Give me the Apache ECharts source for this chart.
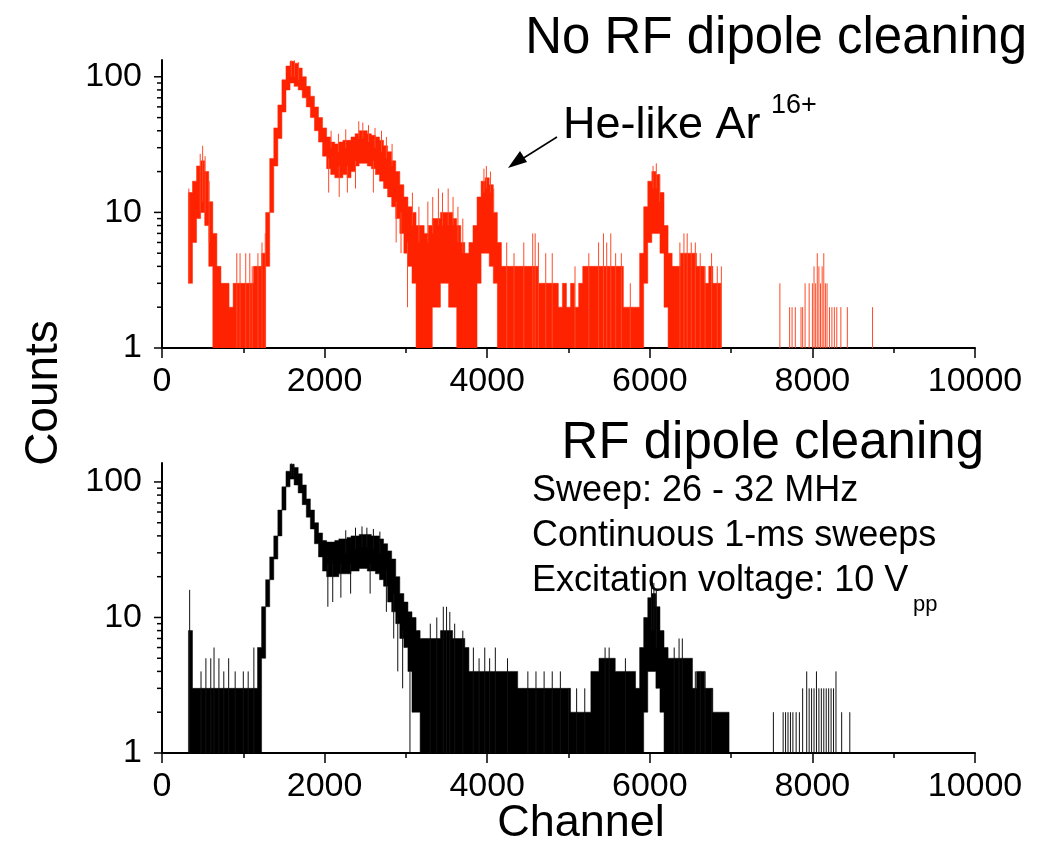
<!DOCTYPE html>
<html>
<head>
<meta charset="utf-8">
<script src="https://cdn.jsdelivr.net/npm/echarts/dist/echarts.min.js"></script>
<style>
html,body{margin:0;padding:0;background:#ffffff;}
#chart{width:1051px;height:845px;}
</style>
</head>
<body>
<div id="chart"></div>
<script>
// ---------------- data ----------------
const xTickLabels = [0, 2000, 4000, 6000, 8000, 10000];
const yTickLabels = [1, 10, 100];
const yMinorTicks = [2, 3, 4, 5, 6, 7, 8, 9, 20, 30, 40, 50, 60, 70, 80, 90];

// Top panel (No RF dipole cleaning): 50-channel bins, lower / upper edge of the noisy band
const redChannel = [350,400,450,500,550,600,650,700,750,800,850,900,950,1000,1050,1100,1150,1200,1250,1300,
  1350,1400,1450,1500,1550,1600,1650,1700,1750,1800,1850,1900,1950,2000,2050,2100,2150,2200,2250,2300,
  2350,2400,2450,2500,2550,2600,2650,2700,2750,2800,2850,2900,2950,3000,3050,3100,3150,3200,3250,3300,
  3350,3400,3450,3500,3550,3600,3650,3700,3750,3800,3850,3900,3950,4000,4050,4100,4150,4200,4250,4300,
  4350,4400,4450,4500,4550,4600,4650,4700,4750,4800,4850,4900,4950,5000,5050,5100,5150,5200,5250,5300,
  5350,5400,5450,5500,5550,5600,5650,5700,5750,5800,5850,5900,5950,6000,6050,6100,6150,6200,6250,6300,
  6350,6400,6450,6500,6550,6600,6650,6700,6750,6800,6850];
const redLow = [3,6,9,10,8,4,1,1,1,1,1,1,1,1,1,1,1,1,1,4,
  12,22,35,55,80,90,85,80,70,60,50,40,33,26,21,19,18,18,19,18,
  20,22,23,23,22,21,19,17,15,13,11,9,7,5,4,3,1,1,1,1,
  2,2,3,3,2,2,1,1,1,1,1,3,5,5,4,3,1,1,1,1,
  1,1,1,1,1,1,1,1,1,1,1,1,1,1,1,1,1,1,1,1,
  1,1,1,1,1,1,1,1,1,1,1,1,3,6,7,7,5,2,1,1,
  1,1,1,1,1,1,1,1,1,1,1];
const redHigh = [14,17,22,24,20,12,7,4,3,3,2,3,3,3,3,3,4,4,5,10,
  25,42,62,95,120,130,126,116,100,85,72,60,50,42,36,33,32,33,34,34,
  36,38,40,40,38,37,36,34,31,28,24,20,16,13,11,10,8,8,7,8,
  9,9,10,10,10,9,8,6,5,6,8,13,17,18,16,10,6,4,4,4,
  4,4,4,4,4,4,3,3,3,3,3,2,3,2,3,2,3,4,4,4,
  4,4,4,4,4,4,4,2,2,2,2,5,11,17,20,19,14,8,5,4,
  4,5,5,5,5,4,4,3,4,3,3];
// isolated spikes: [channel, from, to]
const redSpikes = [[330,3,15],[470,10,27],[500,12,31],[530,10,26],[580,6,17],
  [920,1,5],[960,1,5],[1030,1,5],[1080,1,5],[1110,1,4],[1180,1,5],[1230,1,6],[1270,1,7],
  [1590,100,132],[1630,100,132],[1680,95,128],
  [2080,30,40],[2170,28,38],[2260,30,41],[2420,35,47],[2470,35,46],[2540,33,44],[2620,30,42],[2700,28,40],[2760,25,36],[2830,22,32],
  [2050,14,25],[2180,13,22],[2280,14,22],[2380,15,24],[2600,14,24],[2880,6,12],[2940,5,10],[3020,2,6],
  [3080,8,14],[3160,6,11],[3270,6,12],[3330,7,13],[3400,8,15],[3450,8,14],[3520,8,15],[3580,8,13],[3640,6,11],[3700,5,9],
  [3960,14,21],[3990,15,22],[4040,14,20],[4080,10,15],
  [4240,1,6],[4330,1,5],[4450,1,6],[4560,1,7],[4590,1,7],[4630,1,6],[4720,1,5],[4800,1,5],[5080,1,4],[5250,1,5],
  [5370,1,6],[5430,1,7],[5470,1,6],[5520,1,7],[5580,1,5],[5650,1,5],[5760,1,3],
  [6040,15,22],[6080,15,23],[6120,12,19],
  [6370,1,6],[6420,1,7],[6460,1,7],[6510,1,6],[6560,1,6],[6620,1,5],[6680,1,4],[6760,1,5],[6830,1,4],[6880,1,4],
  [7600,1,3],[7720,1,2],[7750,1,2],[7790,1,2],[7860,1,2],[7880,1,2],[7910,1,3],[7960,1,3],[8000,1,3],[8020,1,4],
  [8040,1,3],[8060,1,5],[8080,1,4],[8100,1,3],[8120,1,4],[8140,1,5],[8160,1,3],[8180,1,3],[8210,1,2],[8240,1,2],
  [8270,1,2],[8300,1,2],[8350,1,2],[8430,1,2],[8740,1,2]];

// Bottom panel (RF dipole cleaning)
const blackChannel = [350,400,450,500,550,600,650,700,750,800,850,900,950,1000,1050,1100,1150,1200,1250,1300,
  1350,1400,1450,1500,1550,1600,1650,1700,1750,1800,1850,1900,1950,2000,2050,2100,2150,2200,2250,2300,
  2350,2400,2450,2500,2550,2600,2650,2700,2750,2800,2850,2900,2950,3000,3050,3100,3150,3200,3250,3300,
  3350,3400,3450,3500,3550,3600,3650,3700,3750,3800,3850,3900,3950,4000,4050,4100,4150,4200,4250,4300,
  4350,4400,4450,4500,4550,4600,4650,4700,4750,4800,4850,4900,4950,5000,5050,5100,5150,5200,5250,5300,
  5350,5400,5450,5500,5550,5600,5650,5700,5750,5800,5850,5900,5950,6000,6050,6100,6150,6200,6250,6300,
  6350,6400,6450,6500,6550,6600,6650,6700,6750,6800,6850,6900,6950];
const blackLow = [1,1,1,1,1,1,1,1,1,1,1,1,1,1,1,1,1,1,5,12,
  19,27,42,65,95,105,95,83,68,55,45,35,28,22,20,20,20,21,21,21,
  22,22,23,23,22,22,21,19,17,13,11,9,7,6,4,2,2,1,1,1,
  1,1,1,1,1,1,1,1,1,1,1,1,1,1,1,1,1,1,1,1,
  1,1,1,1,1,1,1,1,1,1,1,1,1,1,1,1,1,1,1,1,
  1,1,1,1,1,1,1,1,1,1,1,1,2,4,4,3,2,1,1,1,
  1,1,1,1,1,1,1,1,1,1,1,1,1];
const blackHigh = [8,3,3,3,3,3,3,3,3,3,3,3,3,3,3,3,3,6,12,19,
  28,40,62,92,120,135,128,115,95,75,62,50,42,37,36,36,37,38,38,39,
  40,40,41,41,41,40,40,38,35,31,27,20,15,13,11,10,8,7,7,7,
  7,7,8,8,8,7,7,7,6,4,4,4,4,4,4,4,4,4,4,4,
  4,3,3,3,3,3,3,3,3,3,3,3,3,3,2,2,2,2,2,4,
  4,5,5,5,5,4,4,4,4,4,3,6,10,14,15,12,8,6,5,5,
  5,5,5,5,3,4,4,3,3,2,2,2,2];
const blackSpikes = [[340,1,16],[480,1,4],[540,1,5],[600,1,5],[640,1,6],[700,1,5],[760,1,4],[820,1,5],[900,1,4],
  [1000,1,4],[1060,1,4],[1130,1,6],
  [1590,110,137],[1620,110,136],
  [2260,30,44],[2380,32,46],[2460,33,47],[2520,33,46],[2600,32,45],[2680,30,43],
  [2040,12,25],[2100,13,25],[2200,14,25],[2320,15,25],[2560,15,25],[2760,11,22],[2850,7,15],[2900,4,10],[2960,3,8],[3050,1,4],
  [3300,1,9],[3380,1,10],[3460,1,12],[3500,1,12],[3540,1,11],[3600,1,9],[3700,1,8],
  [3830,1,6],[3900,1,5],[3970,1,6],[4030,1,5],[4100,1,6],[4250,1,5],
  [4500,1,4],[4600,1,4],[4700,1,4],[4800,1,4],[4900,1,4],[5000,1,3],[5100,1,3],[5200,1,3],
  [5450,1,6],[5500,1,6],[5700,1,5],
  [6020,8,17],[6050,8,18],[6080,6,16],
  [6300,1,6],[6360,1,7],[6400,1,7],[6560,1,4],[6620,1,4],[6680,1,4],[6760,1,3],
  [7520,1,2],[7640,1,2],[7670,1,2],[7700,1,2],[7730,1,2],[7760,1,2],[7800,1,2],[7840,1,2],[7880,1,3],[7930,1,4],
  [7960,1,3],[7990,1,3],[8020,1,3],[8050,1,4],[8080,1,3],[8110,1,3],[8140,1,3],[8170,1,3],[8200,1,3],[8230,1,3],
  [8260,1,3],[8290,1,4],[8360,1,2],[8460,1,2]];

// ---------------- chart ----------------
const FONT = '"Liberation Sans", Arial, Helvetica, sans-serif';
const BIN_HALF = 25;
const RED = '#ff2200', RED_THIN = '#ff4a28';
const BLACK = '#000000', BLACK_THIN = '#111111';

function zip3(c, lo, hi) { return c.map((v, i) => [v, lo[i], hi[i]]); }

// The whole band is drawn as one stepped polygon (upper edge left->right, lower edge back).
// The bottom of each bin is pulled down to its neighbours' high edge so steep flanks stay connected.
function bandRender(color, ch, lo, hi) {
  const n = ch.length;
  return function (params, api) {
    if (params.dataIndex !== 0) return null;
    const upper = [], lower = [];
    for (let i = 0; i < n; i++) {
      let bottom = lo[i];
      if (i > 0) bottom = Math.min(bottom, hi[i - 1]);
      if (i < n - 1) bottom = Math.min(bottom, hi[i + 1]);
      upper.push(api.coord([ch[i] - BIN_HALF, hi[i]]), api.coord([ch[i] + BIN_HALF, hi[i]]));
      lower.push(api.coord([ch[i] - BIN_HALF, bottom]), api.coord([ch[i] + BIN_HALF, bottom]));
    }
    const pts = upper.concat(lower.reverse());
    return { type: 'polygon', shape: { points: pts }, style: { fill: color, stroke: color, lineWidth: 0.5 } };
  };
}
function spikeRender(color) {
  return function (params, api) {
    const c = api.value(0);
    const a = api.coord([c, api.value(1)]);
    const b = api.coord([c, api.value(2)]);
    return { type: 'line', shape: { x1: a[0], y1: a[1], x2: b[0], y2: b[1] },
      style: { stroke: color, lineWidth: 1 } };
  };
}
function tickRender(len) {
  return function (params, api) {
    const p = api.coord([0, api.value(0)]);
    return { type: 'line', shape: { x1: p[0] - len, y1: p[1], x2: p[0], y2: p[1] },
      style: { stroke: '#000', lineWidth: 1.5 } };
  };
}

function xAxisDef(gi) {
  return {
    type: 'value', gridIndex: gi, min: xTickLabels[0], max: xTickLabels[xTickLabels.length - 1], interval: 2000,
    axisLine: { show: true, lineStyle: { color: '#000', width: 2 } },
    axisTick: { show: true, inside: false, length: 10, lineStyle: { color: '#000', width: 1.5 } },
    minorTick: { show: true, splitNumber: 2, length: 5, lineStyle: { color: '#000', width: 1.5 } },
    splitLine: { show: false },
    axisLabel: { fontFamily: FONT, fontSize: 34, color: '#000', margin: 17,
      formatter: v => xTickLabels.includes(v) ? String(v) : '' }
  };
}
function yAxisDef(gi, max) {
  return {
    type: 'log', gridIndex: gi, logBase: 10, min: 1, max: max,
    axisLine: { show: true, lineStyle: { color: '#000', width: 2 } },
    axisTick: { show: false },
    splitLine: { show: false },
    axisLabel: { fontFamily: FONT, fontSize: 34, color: '#000', margin: 20, showMaxLabel: false,
      formatter: v => { const r = Math.round(v); return (Math.abs(v - r) < 1e-6 && yTickLabels.includes(r)) ? String(r) : ''; } }
  };
}

function panelSeries(gi, ch, lo, hi, spikes, color, thin) {
  return [
    { type: 'custom', xAxisIndex: gi, yAxisIndex: gi, clip: true, silent: true,
      renderItem: bandRender(color, ch, lo, hi), data: zip3(ch, lo, hi), encode: { x: 0, y: [1, 2] } },
    { type: 'custom', xAxisIndex: gi, yAxisIndex: gi, clip: true, silent: true,
      renderItem: spikeRender(thin), data: spikes, encode: { x: 0, y: [1, 2] } },
    { type: 'custom', xAxisIndex: gi, yAxisIndex: gi, clip: false, silent: true,
      renderItem: tickRender(8), data: yTickLabels.map(v => [v]), encode: { y: 0 } },
    { type: 'custom', xAxisIndex: gi, yAxisIndex: gi, clip: false, silent: true,
      renderItem: tickRender(5), data: yMinorTicks.map(v => [v]), encode: { y: 0 } }
  ];
}

const chart = echarts.init(document.getElementById('chart'), null, { renderer: 'canvas' });
const txt = (text, x, y, size, align, extra) => Object.assign({
  type: 'text', x: x, y: y, silent: true,
  style: { text: text, fill: '#000', font: size + 'px ' + FONT, align: align, textAlign: align,
    verticalAlign: 'middle', textVerticalAlign: 'middle' }
}, extra || {});

chart.setOption({
  backgroundColor: '#ffffff',
  animation: false,
  grid: [
    { left: 162, top: 60, width: 813, height: 288 },
    { left: 162, top: 463, width: 813, height: 290 }
  ],
  xAxis: [xAxisDef(0), xAxisDef(1)],
  yAxis: [yAxisDef(0, 133), yAxisDef(1, 138)],
  series: [].concat(
    panelSeries(0, redChannel, redLow, redHigh, redSpikes, RED, RED_THIN),
    panelSeries(1, blackChannel, blackLow, blackHigh, blackSpikes, BLACK, BLACK_THIN)
  ),
  graphic: [
    txt('No RF dipole cleaning', 1027, 39, 51, 'right'),
    txt('RF dipole cleaning', 984, 444, 51, 'right'),
    txt('Sweep: 26 - 32 MHz', 532, 491, 36, 'left'),
    txt('Continuous 1-ms sweeps', 532, 536, 36, 'left'),
    txt('Excitation voltage: 10 V', 532, 581, 36, 'left'),
    txt('pp', 913, 605, 22, 'left'),
    txt('He-like Ar', 563, 126, 45, 'left'),
    txt('16+', 771, 106, 27, 'left'),
    txt('Counts', 44, 393, 46, 'center', { rotation: Math.PI / 2 }),
    txt('Channel', 581, 824, 45, 'center'),
    { type: 'line', silent: true, shape: { x1: 557, y1: 137, x2: 522, y2: 159 },
      style: { stroke: '#000', lineWidth: 1.5 } },
    { type: 'polygon', silent: true, shape: { points: [[508, 168], [527, 162], [520, 151]] },
      style: { fill: '#000' } }
  ]
});
</script>
</body>
</html>
